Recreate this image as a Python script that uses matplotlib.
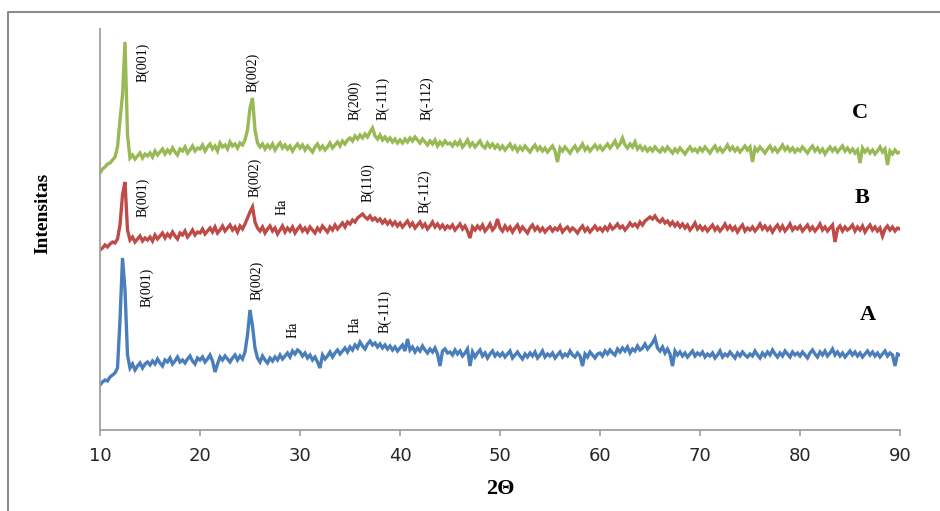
import numpy as np
import matplotlib
matplotlib.use("Agg")
import matplotlib.pyplot as plt
from matplotlib.lines import Line2D

# 2-theta sampling grid, 0.25 deg steps
two_theta = np.linspace(10, 90, 321)

# intensities (arbitrary units, series already offset)
sample_a = [
    45, 48, 50, 49, 53, 55, 57, 62, 110, 172, 140, 75, 62, 66, 60, 64, 67, 62, 66, 68,
    65, 69, 66, 71, 67, 64, 70, 68, 72, 66, 69, 73, 68, 70, 67, 71, 74, 69, 66, 72,
    70, 73, 68, 71, 75, 69, 58, 66, 73, 70, 74, 71, 68, 72, 75, 70, 74, 71, 78, 95,
    120, 104, 82, 72, 68, 74, 70, 67, 72, 69, 73, 70, 75, 71, 74, 77, 73, 79, 76, 80,
    78, 74, 77, 72, 75, 70, 73, 68, 62, 75, 71, 74, 78, 73, 77, 80, 76, 79, 82, 78,
    83, 80, 85, 82, 88, 84, 81, 86, 89, 85, 87, 83, 86, 82, 85, 81, 84, 80, 83, 79,
    82, 85, 79, 91, 80, 83, 78, 82, 79, 84, 80, 77, 81, 78, 82, 76, 64, 79, 81, 77,
    78, 75, 80, 76, 79, 74, 77, 81, 64, 78, 73, 77, 80, 74, 77, 72, 76, 79, 74, 77,
    74, 77, 73, 76, 79, 72, 75, 78, 74, 71, 76, 73, 77, 74, 78, 72, 75, 79, 73, 76,
    74, 77, 72, 75, 78, 73, 76, 74, 79, 75, 73, 77, 74, 64, 76, 73, 78, 75, 72, 76,
    77, 74, 79, 76, 80, 77, 75, 81, 78, 82, 79, 83, 77, 81, 79, 84, 80, 82, 86, 81,
    84, 87, 92, 82, 79, 83, 77, 81, 76, 64, 79, 75, 78, 74, 77, 73, 76, 79, 74, 77,
    75, 78, 73, 76, 74, 77, 72, 75, 79, 73, 76, 74, 78, 75, 72, 77, 74, 78, 75, 73,
    76, 74, 79, 75, 72, 77, 74, 78, 75, 80, 76, 73, 77, 74, 79, 76, 73, 78, 75, 77,
    74, 78, 75, 72, 77, 80, 76, 73, 78, 75, 79, 74, 77, 81, 75, 78, 74, 77, 73, 76,
    79, 75, 78, 74, 77, 73, 76, 79, 75, 78, 74, 77, 73, 76, 79, 74, 77, 75, 64, 76,
    75,
]

sample_b = [
    180, 182, 185, 183, 186, 188, 187, 191, 205, 235, 248, 200, 190, 193, 188, 191, 194, 189, 192, 190,
    193, 189, 195, 191, 194, 197, 192, 196, 193, 198, 194, 191, 197, 195, 199, 193, 196, 200, 195, 198,
    197, 201, 196, 199, 202, 198, 203, 197, 200, 204, 199, 202, 205, 200, 203, 198, 204, 201, 206, 212,
    218, 223, 208, 202, 199, 203, 197, 201, 204, 199, 202, 196, 200, 204, 198, 202, 199, 203, 197, 201,
    204, 199, 202, 198, 203, 200, 197, 202, 199, 204, 201, 198, 203, 200, 205, 201, 204, 207, 203, 208,
    206, 210, 208, 212, 214, 216, 213, 211, 214, 210, 212, 209, 211, 207, 210, 206, 209, 205, 208, 204,
    207, 203, 206, 209, 204, 207, 202, 205, 208, 203, 206, 201, 204, 208, 203, 206, 202, 205, 201, 204,
    202, 205, 200, 203, 206, 201, 204, 199, 192, 203, 200, 204, 201, 205, 199, 202, 206, 200, 203, 211,
    202, 199, 204, 200, 203, 198, 202, 205, 199, 203, 200, 197, 202, 205, 200, 203, 199, 202, 198, 201,
    203, 199, 202, 200, 204, 198, 201, 203, 199, 202, 200, 197, 201, 204, 199, 202, 198, 201, 204, 200,
    202, 199, 203, 200, 205, 201, 203, 206, 202, 204, 200, 203, 207, 204, 206, 203, 208, 205, 209, 211,
    213, 211, 214, 210, 208, 211, 207, 209, 205, 208, 204, 207, 203, 206, 202, 205, 200, 203, 207, 201,
    204, 200, 203, 199, 202, 205, 200, 203, 199, 202, 206, 201, 204, 200, 203, 198, 202, 205, 199, 202,
    200, 203, 199, 202, 206, 201, 204, 200, 203, 198, 202, 205, 200, 204, 199, 202, 206, 200, 203, 201,
    204, 199, 202, 205, 200, 203, 199, 202, 206, 200, 203, 199, 202, 205, 188, 201, 204, 199, 203, 200,
    202, 205, 199, 203, 200, 204, 198, 202, 205, 200, 203, 199, 202, 194, 201, 204, 200, 203, 199, 202,
    201,
]

sample_c = [
    257, 261, 263, 266, 267, 270, 273, 283, 310, 335, 388, 295, 272, 275, 271, 274, 277, 272, 276, 274,
    277, 273, 279, 275, 278, 281, 276, 280, 277, 282, 278, 275, 281, 279, 283, 277, 280, 284, 279, 282,
    281, 285, 279, 283, 286, 281, 284, 279, 287, 283, 285, 281, 288, 284, 286, 282, 287, 285, 290, 300,
    322, 332, 300, 287, 283, 286, 281, 285, 282, 286, 280, 284, 287, 282, 285, 281, 284, 279, 283, 286,
    282, 285, 280, 284, 281, 278, 283, 286, 281, 284, 280, 283, 287, 282, 285, 288, 284, 289, 286, 290,
    292, 289, 294, 291, 295, 292, 296, 293, 298, 302, 294, 291, 295, 290, 293, 289, 292, 288, 291, 287,
    290, 287, 291, 288, 292, 289, 293, 290, 287, 291, 288, 285, 289, 286, 290, 284, 288, 285, 289, 286,
    287, 284, 288, 285, 289, 283, 286, 290, 284, 287, 283, 286, 289, 284, 282, 287, 283, 286, 282, 285,
    281, 284, 280, 283, 286, 281, 284, 279, 283, 280, 284, 281, 278, 282, 285, 280, 283, 279, 282, 278,
    281, 284, 279, 268, 282, 279, 283, 280, 277, 281, 284, 279, 282, 286, 280, 283, 279, 282, 285, 281,
    284, 280, 283, 286, 282, 285, 289, 283, 286, 292, 285, 282, 286, 283, 288, 281, 284, 280, 283, 279,
    282, 279, 283, 280, 278, 282, 279, 283, 280, 277, 281, 278, 282, 279, 276, 280, 283, 279, 281, 278,
    282, 279, 283, 280, 277, 281, 284, 279, 282, 278, 281, 285, 280, 283, 279, 282, 278, 281, 284, 280,
    283, 268, 282, 279, 283, 280, 277, 281, 284, 279, 282, 278, 281, 285, 280, 283, 279, 282, 278, 281,
    279, 283, 280, 277, 281, 284, 279, 282, 278, 281, 276, 280, 283, 279, 282, 278, 281, 284, 279, 282,
    278, 281, 277, 280, 267, 282, 278, 281, 277, 280, 276, 279, 283, 278, 281, 265, 279, 276, 280, 277,
    278,
]

# peak annotations: (2theta, label)
peaks_a = [(14.7, "B(001)"), (25.7, "B(002)"), (29.3, "Ha"), (35.5, "Ha"), (38.5, "B(-111)")]
peaks_b = [(14.3, "B(001)"), (25.5, "B(002)"), (28.2, "Ha"), (36.8, "B(110)"), (42.5, "B(-112)")]
peaks_c = [(14.3, "B(001)"), (25.3, "B(002)"), (35.5, "B(200)"), (38.3, "B(-111)"), (42.7, "B(-112)")]
series_names = ["A", "B", "C"]

# label baselines (same units as intensities)
label_base_a = [123, 130, 92, 97, 97]
label_base_b = [213, 233, 215, 228, 217]
label_base_c = [348, 338, 310, 310, 310]

colors = ["#4a7ebb", "#be4b48", "#98b954"]
serif = "Liberation Serif"

fig = plt.figure(figsize=(9.4, 5.11), dpi=100)
ax = fig.add_axes([100 / 940, 81 / 511, 800 / 940, 401 / 511])

for ys, c in zip([sample_a, sample_b, sample_c], colors):
    ax.plot(two_theta, ys, color=c, lw=2.4, solid_joinstyle="miter")

for peaks, bases in [(peaks_a, label_base_a), (peaks_b, label_base_b), (peaks_c, label_base_c)]:
    for (x, lab), yb in zip(peaks, bases):
        ax.text(x, yb, lab, rotation=90, ha="center", va="bottom",
                fontsize=10, family=serif, color="black")

# series letters
for name, (x, y) in zip(series_names, [(86.8, 115), (86.2, 232), (86.0, 317)]):
    ax.text(x, y, name, ha="center", va="center", fontsize=16,
            fontweight="bold", family=serif)

ax.set_xlim(10, 90)
ax.set_ylim(0, 401)
ax.set_xticks(range(10, 91, 10))
ax.set_yticks([])
for s in ["top", "right"]:
    ax.spines[s].set_visible(False)
for s in ["left", "bottom"]:
    ax.spines[s].set_color("#a0a0a0")
    ax.spines[s].set_linewidth(1.3)
ax.tick_params(axis="x", direction="out", length=4, width=1.2, color="#a0a0a0",
               labelsize=13, labelcolor="#262626", pad=8)

fig.text(500 / 940, 1 - 489 / 511, "2Θ", ha="center", va="center",
         fontsize=16, fontweight="bold", family=serif)
fig.text(43 / 940, 1 - 213 / 511, "Intensitas", rotation=90, ha="center",
         va="center", fontsize=14, fontweight="bold", family=serif)

# outer frame (only top and left edges visible)
fig.add_artist(Line2D([8 / 940, 8 / 940, 1.0], [0.0, 1 - 12 / 511, 1 - 12 / 511],
                      transform=fig.transFigure, color="#8c8c8c", lw=1.5))

fig.savefig("out.png", dpi=100)
